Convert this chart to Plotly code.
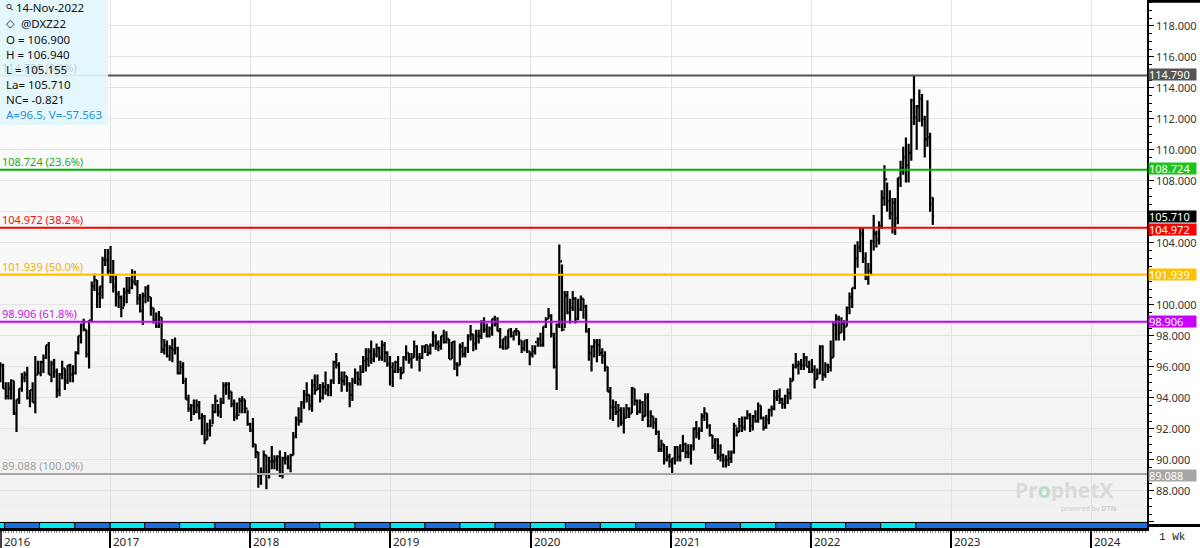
import pandas as pd
import plotly.graph_objects as go

# ------------------------------------------------------------------ data
week_start = "2016-03-21"   # first weekly bar (Mondays)

high_2016 = [96.3, 96.2, 95.0, 95.0, 95.2, 95.1, 93.9, 94.6, 95.6, 95.7, 96.0, 94.5, 95.0, 96.7,
             96.4, 96.4, 96.8, 97.4, 97.6, 96.4, 96.5, 95.9, 95.6, 96.4, 95.9, 96.1, 96.2, 96.1,
             97.0, 98.0, 98.8, 99.1, 98.4, 99.0, 101.5, 102.0, 101.6, 101.2, 103.1, 103.6, 103.6]
low_2016 = [95.0, 94.6, 93.9, 93.9, 93.9, 92.9, 91.8, 93.6, 94.4, 95.0, 93.9, 93.4, 93.7, 93.0,
            95.5, 95.4, 95.6, 96.5, 95.5, 95.0, 95.3, 94.0, 94.1, 95.2, 94.5, 94.9, 95.0, 95.0,
            95.5, 96.8, 97.5, 98.3, 96.6, 95.9, 98.9, 100.9, 99.8, 99.8, 100.4, 102.5, 101.9]
close_2016 = [96.1, 94.6, 94.1, 94.6, 95.1, 93.0, 93.9, 94.6, 95.3, 95.5, 94.0, 94.5, 93.7, 95.5,
              95.6, 96.3, 96.6, 97.4, 95.5, 96.2, 95.7, 94.5, 95.5, 95.9, 95.1, 96.1, 95.5, 95.6,
              96.9, 98.0, 98.7, 98.4, 96.8, 99.0, 101.2, 101.6, 100.7, 101.2, 102.9, 102.9, 102.2]

high_2017 = [103.8, 102.9, 101.9, 100.9, 100.6, 101.1, 101.8, 101.8, 102.3, 102.2, 101.6, 100.7, 100.8,
             101.2, 101.3, 100.5, 99.8, 99.5, 99.6, 99.2, 97.8, 97.7, 97.4, 97.8, 97.9, 97.3,
             96.4, 96.3, 95.3, 94.2, 93.6, 93.9, 93.9, 93.8, 93.0, 92.9, 92.4, 92.6, 93.6,
             94.2, 93.6, 94.0, 95.0, 95.0, 95.0, 94.4, 93.9, 93.7, 94.0, 94.1, 93.9, 93.2]
low_2017 = [101.4, 100.8, 99.9, 99.8, 99.2, 99.9, 100.1, 100.7, 101.0, 101.3, 100.0, 99.5, 98.7,
            100.1, 100.2, 99.3, 98.8, 98.5, 98.5, 96.9, 96.8, 96.6, 96.4, 96.3, 96.8, 95.5,
            95.5, 94.9, 93.9, 93.1, 92.5, 92.9, 93.0, 92.6, 91.6, 91.0, 91.3, 91.5, 92.3,
            93.0, 92.8, 92.7, 93.6, 94.2, 93.9, 93.4, 92.5, 92.6, 93.0, 93.0, 93.0, 92.2]
close_2017 = [101.9, 101.2, 100.7, 100.5, 99.8, 100.8, 100.9, 101.1, 101.5, 101.3, 100.4, 99.6, 100.6,
              101.1, 100.5, 99.8, 99.0, 98.6, 99.2, 97.1, 97.4, 96.7, 97.2, 97.1, 97.2, 95.6,
              96.0, 95.1, 93.9, 93.3, 93.5, 93.1, 93.5, 92.7, 92.8, 91.3, 91.9, 92.2, 93.1,
              93.8, 93.1, 93.7, 94.8, 94.9, 94.4, 93.6, 92.8, 92.9, 93.8, 93.9, 93.3, 92.3]

high_2018 = [92.4, 92.7, 91.0, 90.5, 89.5, 90.6, 90.3, 90.2, 90.9, 90.3, 90.3, 90.6, 90.2,
             90.5, 90.3, 90.4, 91.8, 92.8, 93.4, 93.8, 94.5, 95.0, 94.2, 95.2, 95.5, 95.5,
             94.9, 95.0, 95.7, 94.9, 95.2, 96.4, 96.9, 96.3, 95.7, 95.7, 95.4, 95.0, 95.3,
             95.9, 95.7, 96.1, 96.7, 97.2, 97.2, 97.7, 97.2, 97.5, 97.3, 97.7, 97.6, 97.0, 96.7]
low_2018 = [91.8, 90.8, 90.1, 88.2, 88.4, 89.0, 88.1, 88.8, 89.4, 89.4, 89.3, 88.9, 88.8,
            89.7, 89.4, 89.2, 90.3, 91.4, 92.2, 92.4, 93.3, 93.7, 93.2, 93.1, 94.2, 94.5,
            93.7, 93.9, 94.2, 94.1, 94.1, 94.9, 95.9, 94.9, 94.4, 94.8, 94.4, 93.4, 93.8,
            94.9, 94.8, 94.8, 95.6, 95.7, 96.0, 96.2, 96.3, 96.6, 96.4, 96.4, 96.3, 96.0, 94.8]
close_2018 = [91.9, 91.0, 90.5, 89.0, 89.2, 90.3, 89.1, 89.9, 89.9, 90.0, 90.2, 89.0, 90.1,
              90.1, 89.5, 90.3, 91.5, 92.6, 92.5, 93.7, 94.2, 94.2, 93.5, 94.8, 94.5, 94.6,
              94.0, 94.7, 94.5, 94.7, 95.1, 96.3, 96.1, 95.2, 95.1, 95.4, 94.9, 94.2, 95.1,
              95.6, 95.2, 95.7, 96.4, 96.5, 97.0, 96.5, 96.8, 97.2, 96.6, 97.4, 96.9, 96.2, 96.0]

high_2019 = [96.3, 96.4, 96.7, 96.0, 96.7, 97.4, 96.9, 96.9, 97.7, 97.4, 96.9, 97.4,
             97.4, 97.4, 97.5, 98.3, 98.1, 97.7, 98.0, 98.4, 98.3, 97.8, 97.6, 97.7, 96.3,
             97.5, 97.6, 97.3, 98.1, 98.7, 98.1, 98.4, 98.4, 99.0, 99.2, 98.8, 98.6, 99.1, 99.3,
             99.2, 98.5, 97.8, 98.0, 98.4, 98.5, 98.3, 98.5, 98.3, 97.7, 97.7, 97.8, 97.0]
low_2019 = [94.7, 95.6, 95.6, 95.2, 95.6, 96.4, 96.2, 95.9, 96.6, 96.4, 95.7, 96.5,
            96.9, 96.7, 96.8, 97.3, 97.1, 97.0, 97.1, 97.5, 97.5, 96.5, 96.5, 95.8, 95.4,
            96.1, 96.6, 96.6, 96.9, 97.7, 97.0, 97.1, 97.5, 97.8, 98.2, 97.9, 97.9, 98.0, 98.6,
            98.3, 97.2, 97.1, 97.1, 97.2, 97.9, 97.7, 98.0, 97.4, 96.9, 97.0, 96.9, 96.1]
close_2019 = [95.7, 96.3, 95.8, 95.6, 96.6, 96.9, 96.5, 96.6, 97.3, 96.6, 96.6, 97.3,
              97.4, 96.9, 97.4, 98.0, 97.5, 97.3, 98.0, 97.6, 97.8, 96.5, 97.6, 96.2, 96.1,
              97.3, 96.8, 97.2, 98.0, 98.1, 97.5, 98.0, 98.0, 98.9, 98.4, 98.0, 98.5, 99.1, 98.8,
              98.3, 97.3, 97.8, 97.2, 98.4, 98.0, 98.3, 98.3, 97.7, 97.2, 97.7, 97.0, 96.8]

high_2020 = [97.4, 97.4, 97.9, 98.2, 98.6, 99.2, 99.8, 99.4, 98.2, 98.8, 103.9, 102.6, 100.9,
             100.9, 100.4, 100.9, 100.5, 100.4, 100.6, 100.4, 100.0, 98.5, 97.4, 97.8, 97.8, 97.8,
             97.2, 97.0, 96.0, 94.7, 93.9, 93.8, 93.6, 93.4, 93.4, 93.6, 93.4, 94.7, 94.6,
             93.9, 93.9, 93.8, 94.3, 94.3, 93.2, 92.8, 92.7, 91.9, 91.3, 91.0, 90.9, 90.4]
low_2020 = [96.6, 96.8, 97.3, 97.3, 97.3, 98.5, 99.1, 97.9, 95.9, 94.5, 98.5, 98.3, 98.5,
            99.4, 98.8, 99.6, 98.8, 99.0, 99.6, 99.1, 98.2, 96.4, 95.7, 96.6, 96.3, 96.7,
            96.2, 95.7, 94.4, 92.6, 92.5, 92.9, 92.1, 92.2, 91.7, 92.7, 92.7, 93.0, 93.5,
            92.9, 93.0, 92.5, 92.8, 92.1, 92.1, 92.0, 91.6, 90.5, 90.5, 89.7, 89.9, 89.5]
close_2020 = [97.0, 97.6, 97.8, 97.4, 98.6, 99.1, 99.3, 98.1, 96.0, 98.7, 102.8, 98.4, 100.6,
              99.5, 99.8, 100.4, 99.1, 99.7, 100.4, 99.9, 98.3, 96.9, 97.3, 97.6, 97.4, 96.9,
              96.7, 96.0, 94.4, 93.4, 93.4, 93.1, 93.2, 92.4, 92.7, 93.3, 93.0, 94.6, 93.8,
              93.1, 93.7, 92.8, 94.0, 92.2, 92.8, 92.4, 91.8, 90.7, 91.0, 90.0, 90.2, 89.9]

high_2021 = [90.1, 90.9, 90.9, 91.0, 91.6, 91.1, 91.0, 91.0, 92.1, 92.5, 92.1, 93.0, 93.4,
             93.0, 92.3, 91.6, 91.4, 91.4, 91.0, 90.4, 90.3, 90.6, 90.6, 92.4, 92.1, 92.7,
             92.8, 92.8, 93.2, 93.0, 92.9, 93.2, 93.7, 93.5, 92.8, 92.9, 93.3, 93.5, 94.5,
             94.5, 94.6, 94.0, 94.2, 94.6, 95.3, 96.2, 96.9, 96.4, 96.5, 96.9, 96.7, 96.4]
low_2021 = [89.15, 89.7, 89.9, 89.9, 90.5, 90.1, 90.1, 89.7, 90.6, 91.4, 91.3, 91.8, 92.5,
            92.0, 91.5, 90.7, 90.4, 90.0, 89.9, 89.5, 89.5, 89.6, 89.8, 90.4, 91.5, 91.8,
            91.8, 91.9, 92.6, 91.8, 91.9, 92.4, 92.4, 92.6, 91.9, 92.0, 92.3, 92.8, 93.2,
            93.8, 93.6, 93.3, 93.3, 93.6, 93.9, 95.1, 95.9, 95.5, 95.8, 95.8, 96.0, 95.6]
close_2021 = [90.1, 90.8, 90.2, 90.6, 91.0, 90.5, 90.4, 90.9, 92.0, 91.7, 91.9, 92.8, 93.0,
              92.2, 91.6, 90.9, 91.3, 90.2, 90.3, 90.0, 90.0, 90.1, 90.5, 92.2, 91.8, 92.2,
              92.1, 92.7, 92.9, 92.2, 92.8, 92.5, 93.5, 92.7, 92.1, 92.6, 93.2, 93.3, 94.0,
              94.1, 93.9, 93.6, 94.1, 94.3, 95.1, 96.0, 96.1, 96.2, 96.1, 96.6, 96.0, 95.7]

high_2022 = [96.5, 96.1, 95.9, 97.4, 97.4, 96.3, 96.2, 97.7, 98.9, 99.4, 99.3, 99.2, 99.0,
             99.9, 100.8, 101.1, 103.9, 104.1, 105.0, 105.0, 103.4, 102.7, 104.2, 105.8, 104.8,
             105.4, 107.4, 109.0, 107.9, 107.4, 106.9, 106.9, 108.2, 109.3, 110.2, 110.8, 110.4,
             113.3, 114.79, 112.9, 113.9, 113.6, 112.2, 113.2, 111.1, 106.94]
low_2022 = [95.6, 94.6, 95.2, 95.5, 95.1, 95.3, 95.6, 95.7, 96.6, 97.7, 97.7, 98.2, 97.7,
            98.6, 99.4, 99.8, 101.0, 102.4, 103.4, 102.7, 101.6, 101.3, 101.9, 103.5, 103.7,
            103.9, 104.9, 106.4, 106.0, 105.5, 104.6, 104.5, 105.2, 107.6, 108.4, 107.9, 107.9,
            109.3, 111.6, 110.0, 111.8, 111.5, 109.5, 110.2, 106.0, 105.155]
close_2022 = [95.8, 95.2, 95.6, 97.3, 95.5, 96.1, 96.0, 96.6, 98.7, 99.1, 98.2, 98.8, 98.6,
              99.8, 100.5, 101.1, 103.0, 103.7, 104.6, 103.0, 101.7, 102.2, 104.1, 104.6, 104.2,
              105.1, 106.9, 108.1, 106.7, 105.9, 106.6, 105.6, 108.2, 108.8, 109.5, 109.0, 109.8,
              113.2, 112.1, 112.8, 113.3, 112.0, 110.7, 110.8, 106.531, 105.71]

first_open = 95.2          # open of the first bar
last_open = 106.9          # open of the last bar (O = 106.900)

fib_levels = [114.790, 108.724, 104.972, 101.939, 98.906, 89.088]
fib_pcts = ["0.0%", "23.6%", "38.2%", "50.0%", "61.8%", "100.0%"]
last_price = 105.710
price_ticks = [86, 88, 90, 92, 94, 96, 98, 100, 102, 104, 106, 108, 110, 112, 114, 116, 118]
hidden_ticks = [86, 102, 106]      # covered by value boxes / strip in the reference
year_labels = [2017, 2018, 2019, 2020, 2021, 2022, 2023, 2024]
info_lines = ["14-Nov-2022", "@DXZ22", "O = 106.900", "H = 106.940", "L = 105.155",
              "La= 105.710", "NC= -0.821", "A=96.5, V=-57.563"]

# ------------------------------------------------------------------ assemble
highs = high_2016 + high_2017 + high_2018 + high_2019 + high_2020 + high_2021 + high_2022
lows = low_2016 + low_2017 + low_2018 + low_2019 + low_2020 + low_2021 + low_2022
closes = close_2016 + close_2017 + close_2018 + close_2019 + close_2020 + close_2021 + close_2022
opens = [first_open] + closes[:-1]
opens[-1] = last_open
dates = pd.date_range(week_start, periods=len(closes), freq="7D")

# ------------------------------------------------------------------ geometry / style
W, H = 1200, 548
PW, PH = 1147, 529          # plot area in px (left=0, top=0)
Y_TOP, Y_BOT = 119.669, 85.54
X_RANGE = ["2016-03-20", "2024-05-25"]
FONT = "Noto Sans"

def py(p):   # px from top -> paper y
    return 1 - p / PH

def px(p):   # px from left -> paper x
    return p / PW

fib_line_colors = ["#555555", "#00b400", "#ff0000", "#ffc000", "#c800ff", "#a6a6a6"]
fib_text_colors = ["rgba(120,120,120,0.35)", "#22aa22", "#e81010", "#f0b000", "#c020e0", "#a0a0a0"]
fib_box_colors = ["#555555", "#1ec31e", "#ff0000", "#ffc000", "#cc00ff", "#a6a6a6"]

fig = go.Figure()
fig.add_trace(go.Ohlc(
    x=dates, open=opens, high=highs, low=lows, close=closes,
    increasing=dict(line=dict(color="black", width=2.2)),
    decreasing=dict(line=dict(color="black", width=2.2)),
    tickwidth=0.5, hoverinfo="skip", showlegend=False,
))

shapes = []
# background gradient (white at top, light gray at bottom)
n_bands = 30
for i in range(n_bands):
    t = i / (n_bands - 1)
    g = int(round(241 + (255 - 241) * t))
    shapes.append(dict(type="rect", xref="paper", yref="paper", x0=0, x1=1,
                       y0=i / n_bands, y1=(i + 1) / n_bands, line=dict(width=0),
                       fillcolor=f"rgb({g},{g},{g})", layer="below"))

# fib lines
for lvl, col in zip(fib_levels, fib_line_colors):
    shapes.append(dict(type="line", xref="paper", yref="y", x0=0, x1=1, y0=lvl, y1=lvl,
                       line=dict(color=col, width=2), layer="above"))

# quarter strip at the bottom of the plot
q_starts = pd.date_range("2016-01-01", "2022-07-01", freq="QS")
for q in q_starts:
    col = "#00e8ee" if q.month in (1, 7) else "#1a6ee0"
    shapes.append(dict(type="rect", xref="x", yref="paper", x0=q, x1=q + pd.DateOffset(months=3),
                       y0=py(528.5), y1=py(522.5), fillcolor=col,
                       line=dict(color="black", width=1), layer="above"))
shapes.append(dict(type="rect", xref="x", yref="paper", x0="2022-10-01", x1="2024-12-31",
                   y0=py(528.5), y1=py(522.5), fillcolor="#1a6ee0",
                   line=dict(color="black", width=1), layer="above"))

# info box
shapes.append(dict(type="rect", xref="paper", yref="paper", x0=0, x1=px(108), y0=py(125), y1=1,
                   fillcolor="rgba(226,246,252,0.93)", line=dict(width=0), layer="above"))
# frame pieces on the right
shapes.append(dict(type="line", xref="paper", yref="paper", x0=1, x1=px(W), y0=py(1.2), y1=py(1.2),
                   line=dict(color="black", width=3)))
shapes.append(dict(type="line", xref="paper", yref="paper", x0=1, x1=px(W), y0=py(525.5), y1=py(525.5),
                   line=dict(color="black", width=3)))
shapes.append(dict(type="line", xref="paper", yref="paper", x0=px(1), x1=px(1), y0=py(529), y1=py(H),
                   line=dict(color="black", width=1.5)))

annotations = []
# fib labels on the left
for lvl, pct, col in zip(fib_levels, fib_pcts, fib_text_colors):
    annotations.append(dict(x=0, xref="paper", y=lvl, yref="y", xanchor="left", yanchor="bottom",
                            xshift=1, text=f"{lvl:.3f} ({pct})", showarrow=False,
                            font=dict(family=FONT, size=11, color=col), borderpad=0))
# value boxes on the right axis
box_items = [(fib_levels[0], fib_box_colors[0], 1), (fib_levels[1], fib_box_colors[1], 1),
             (last_price, "#000000", 0), (fib_levels[2], fib_box_colors[2], -1.5),
             (fib_levels[3], fib_box_colors[3], 0), (fib_levels[4], fib_box_colors[4], 0),
             (fib_levels[5], fib_box_colors[5], -1.5)]
for val, col, ys in box_items:
    annotations.append(dict(x=1, xref="paper", y=val, yref="y", xanchor="left", yanchor="middle",
                            xshift=1, yshift=ys, text=f"{val:.3f}", showarrow=False, width=47,
                            height=11, align="left", bgcolor=col, borderpad=0,
                            font=dict(family=FONT, size=11, color="white")))
# info box text
info_pos = [(15, 7.5), (20, 23.5), (5, 39.5), (5, 54.5), (5, 69.5), (5, 84.5), (5, 99.5), (5, 115)]
for (lx, ly), txt in zip(info_pos, info_lines):
    col = "#2a8fd8" if txt.startswith("A=") else "#111111"
    annotations.append(dict(x=px(lx), xref="paper", y=py(ly), yref="paper", xanchor="left",
                            yanchor="middle", text=txt, showarrow=False, borderpad=0,
                            font=dict(family=FONT, size=11.5, color=col)))
annotations.append(dict(x=px(1), xref="paper", y=py(6.5), yref="paper", xanchor="left", yanchor="middle",
                        text="⚲", showarrow=False, font=dict(family="DejaVu Sans", size=9, color="#111"),
                        textangle=-45))
annotations.append(dict(x=px(4), xref="paper", y=py(23.5), yref="paper", xanchor="left", yanchor="middle",
                        text="<b>◇</b>", showarrow=False, font=dict(family="DejaVu Sans", size=11, color="#111")))
# year labels
for yr in year_labels:
    annotations.append(dict(x=f"{yr}-01-01", xref="x", y=py(541), yref="paper", xanchor="left",
                            yanchor="middle", xshift=1, text=str(yr), showarrow=False,
                            font=dict(family=FONT, size=11.5, color="#222")))
annotations.append(dict(x=px(2), xref="paper", y=py(541), yref="paper", xanchor="left",
                        yanchor="middle", text="2016", showarrow=False,
                        font=dict(family=FONT, size=11.5, color="#222")))
annotations.append(dict(x=px(1172), xref="paper", y=py(537), yref="paper", xanchor="center",
                        yanchor="middle", text="1 Wk", showarrow=False,
                        font=dict(family="Liberation Mono", size=11, color="#222")))
# watermark
annotations.append(dict(x=px(1064), xref="paper", y=py(490), yref="paper", xanchor="center",
                        yanchor="middle", showarrow=False, borderpad=0, height=22,
                        text="<b>Pr<span style='color:#b8dcc4'>o</span>phetX</b>",
                        font=dict(family="Open Sans", size=21, color="#dadada")))
annotations.append(dict(x=px(1118), xref="paper", y=py(508), yref="paper", xanchor="right",
                        yanchor="middle", showarrow=False, borderpad=0, height=8,
                        text="powered by <b>DTN</b>",
                        font=dict(family="Open Sans", size=7, color="#cfcfcf")))

fig.update_layout(
    width=W, height=H,
    margin=dict(l=0, r=W - PW, t=0, b=H - PH, pad=0),
    paper_bgcolor="white", plot_bgcolor="white",
    showlegend=False, hovermode=False,
    shapes=shapes, annotations=annotations,
    xaxis=dict(type="date", range=X_RANGE, rangeslider=dict(visible=False),
               tickvals=[f"{y}-01-01" for y in year_labels], showticklabels=False,
               ticks="outside", ticklen=19, tickwidth=1.5, tickcolor="black",
               showgrid=True, gridcolor="#e4e4e4", gridwidth=1,
               showline=True, linecolor="black", linewidth=1.5, zeroline=False,
               minor=dict(dtick=7 * 24 * 3600 * 1000, tick0=week_start, ticks="outside",
                          ticklen=2, tickcolor="#8a8a8a", tickwidth=1, showgrid=False),
               automargin=False, fixedrange=True),
    yaxis=dict(side="right", range=[Y_BOT, Y_TOP],
               tickvals=price_ticks,
               ticktext=["" if t in hidden_ticks else f"{t:.3f}" for t in price_ticks],
               ticks="outside", ticklen=5, tickwidth=1, tickcolor="black",
               tickfont=dict(family=FONT, size=11, color="#333"),
               showgrid=True, gridcolor="#e4e4e4", gridwidth=1,
               showline=True, linecolor="black", linewidth=1.5, zeroline=False,
               minor=dict(dtick=0.5, ticks="outside", ticklen=3, tickcolor="black", showgrid=False),
               automargin=False, fixedrange=True),
)

fig.write_html("out.html")
